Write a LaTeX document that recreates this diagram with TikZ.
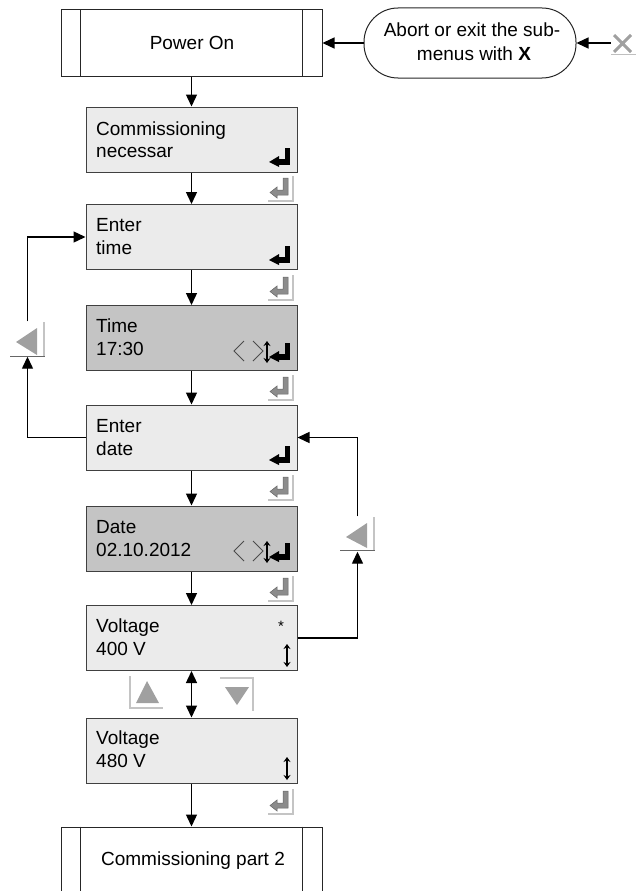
\documentclass[tikz,border=0pt]{standalone}
\usepackage{fontspec}
\setmainfont{Liberation Sans}
\usetikzlibrary{arrows.meta}
\definecolor{boxlight}{HTML}{EBEBEB}
\definecolor{boxdark}{HTML}{C4C4C4}
\definecolor{frameg}{HTML}{C4C4C4}
\definecolor{glyphg}{HTML}{8C8C8C}
\definecolor{btng}{HTML}{A0A0A0}
\begin{document}
\begin{tikzpicture}[x=1pt,y=-1pt,
  font=\fontsize{19}{23}\selectfont,
  box/.style={draw=black!75, line width=1pt, minimum width=211pt, minimum height=65pt, inner sep=0pt},
  lbox/.style={box, fill=boxlight},
  dbox/.style={box, fill=boxdark},
  tbox/.style={draw=black!85, line width=1pt, fill=white, minimum width=261pt, minimum height=66pt, inner sep=0pt},
  txt/.style={anchor=base west, inner sep=0pt},
  ctxt/.style={anchor=base, inner sep=0pt},
  conn/.style={line width=1.4pt, -{Triangle[length=12pt,width=11pt]}},
  dconn/.style={line width=1.4pt, {Triangle[length=12pt,width=11pt]}-{Triangle[length=12pt,width=11pt]}},
  btn/.style={minimum width=35pt, minimum height=35pt, inner sep=0pt},
  enterk/.pic={
    \fill[black] (-5,-17) rectangle (0,0);
    \fill[black] (-12,-6) rectangle (0,0);
    \fill[black] (-21,-3) -- (-11,-9) -- (-11,2) -- cycle;
  },
  genter/.pic={
    \draw[frameg, line width=1.5pt] (0,-25) -- (0,0) -- (-25,0);
    \filldraw[fill=glyphg, draw=black!60, line width=0.5pt]
      (-10,-23) -- (-5,-23) -- (-5,-6) -- (-16,-6) -- (-16,-3) -- (-23,-8.5)
      -- (-16,-14) -- (-16,-11) -- (-10,-11) -- cycle;
  },
  updn/.pic={
    \draw[line width=1.3pt, {Stealth[length=5pt,width=7pt]}-{Stealth[length=5pt,width=7pt]}] (0,0) -- (0,23);
  },
  lrk/.pic={
    \draw[black!70, line width=0.8pt] (-46,-19) -- (-56,-9) -- (-46,1)
      (-37,-19) -- (-27,-9) -- (-37,1);
    \draw[line width=1.3pt, {Stealth[length=5pt,width=7pt]}-{Stealth[length=5pt,width=7pt]}] (-23,-19) -- (-23,3);
  },
]
\useasboundingbox (0,0) rectangle (636,891);

% Power On
\node[tbox] (pwr) at (191.5,43) {};
\draw[black!85, line width=1pt] ([xshift=20pt]pwr.north west) -- ([xshift=20pt]pwr.south west)
  ([xshift=-20pt]pwr.north east) -- ([xshift=-20pt]pwr.south east);
\node[ctxt] (pwrt) at (192,49) {Power On};

% Abort
\node[draw=black!85, line width=1pt, rounded corners=34pt, minimum width=212pt, minimum height=70pt] (abort) at (470,43) {};
\node[ctxt] (abt1) at (472,37) {Abort or exit the sub-};
\node[ctxt] (abt2) at (474,60) {menus with \textbf{X}};

% X button
\node[minimum width=22pt, minimum height=22pt, inner sep=0pt] (xbtn) at (622,43) {};
\draw[btng, line width=3pt] (614,35) -- (631,52) (614,52) -- (631,35);
\draw[black!25, line width=1pt] (611,55) -- (636,55);

% Boxes
\node[lbox] (com) at (191.5,139.5) {};
\node[txt] (comt1) at (96,135) {Commissioning};
\node[txt] (comt2) at (96,157) {necessar};
\pic at (290,165) {enterk};

\node[lbox] (etime) at (191.5,237) {};
\node[txt] (etimet1) at (96,231) {Enter};
\node[txt] (etimet2) at (96,254) {time};
\pic at (290,263) {enterk};

\node[dbox] (time) at (191.5,338) {};
\node[txt] (timet1) at (96,332) {Time};
\node[txt] (timet2) at (96,355) {17:30};
\pic at (290,360) {enterk};
\pic at (290,360) {lrk};

\node[lbox] (edate) at (191.5,437.5) {};
\node[txt] (edatet1) at (96,432) {Enter};
\node[txt] (edatet2) at (96,455) {date};
\pic at (290,463) {enterk};

\node[dbox] (date) at (191.5,538.5) {};
\node[txt] (datet1) at (96,533) {Date};
\node[txt] (datet2) at (96,556) {02.10.2012};
\pic at (290,560) {enterk};
\pic at (290,560) {lrk};

\node[lbox] (volt1) at (191.5,638) {};
\node[txt] (volt1t1) at (96,632) {Voltage};
\node[txt] (volt1t2) at (96,655) {400 V};
\node[ctxt, font=\fontsize{15}{18}\selectfont] (star) at (281,631) {*};
\pic at (287,644) {updn};

\node[lbox] (volt2) at (191.5,750.5) {};
\node[txt] (volt2t1) at (96,744) {Voltage};
\node[txt] (volt2t2) at (96,767) {480 V};
\pic at (287,757) {updn};

\node[tbox, minimum height=78pt] (part2) at (191.5,866) {};
\draw[black!85, line width=1pt] ([xshift=20pt]part2.north west) -- ([xshift=20pt]part2.south west)
  ([xshift=-20pt]part2.north east) -- ([xshift=-20pt]part2.south east);
\node[ctxt] (part2t) at (193,865) {Commissioning part 2};

% small enter buttons
\pic at (293,201) {genter};
\pic at (293,300) {genter};
\pic at (293,400) {genter};
\pic at (293,500) {genter};
\pic at (293,601) {genter};
\pic at (293,814) {genter};

% left button
\node[btn] (lbtn) at (27.5,339) {};
\draw[frameg, line width=2pt] (44,322) -- (44,356);
\draw[black!60, line width=0.8pt] (10,356.5) -- (45,356.5);
\fill[btng] (16,342) -- (37,328) -- (37,355) -- cycle;

% right button
\node[btn] (rbtn) at (357.5,534) {};
\draw[frameg, line width=2pt] (374,517) -- (374,550);
\draw[black!60, line width=0.8pt] (340,550.5) -- (375,550.5);
\fill[btng] (346,537) -- (367,523) -- (367,548) -- cycle;

% up / down buttons
\node[btn, minimum width=33pt, minimum height=32pt] (ubtn) at (146.5,692) {};
\draw[frameg, line width=1.5pt] (130,676) -- (130,708) -- (163,708);
\fill[btng] (147,681) -- (136,703) -- (159,703) -- cycle;
\node[btn, minimum width=33pt, minimum height=33pt] (dbtn) at (236.5,694.5) {};
\draw[frameg, line width=1.5pt] (220,678) -- (253,678) -- (253,711);
\fill[btng] (225,687) -- (249,687) -- (237,705) -- cycle;

% connectors
\draw[conn] (xbtn.west) -- (abort.east);
\draw[conn] (abort.west) -- (pwr.east);
\draw[conn] (pwr.south) -- (com.north);
\draw[conn] (com.south) -- (etime.north);
\draw[conn] (etime.south) -- (time.north);
\draw[conn] (time.south) -- (edate.north);
\draw[conn] (edate.south) -- (date.north);
\draw[conn] (date.south) -- (volt1.north);
\draw[dconn] (volt1.south) -- (volt2.north);
\draw[conn] (volt2.south) -- (part2.north);
\draw[conn] (edate.west) -| (lbtn.south);
\draw[conn] (lbtn.north) |- (etime.west);
\draw[conn] (volt1.east) -| (rbtn.south);
\draw[conn] (rbtn.north) |- (edate.east);
\end{tikzpicture}
\end{document}
